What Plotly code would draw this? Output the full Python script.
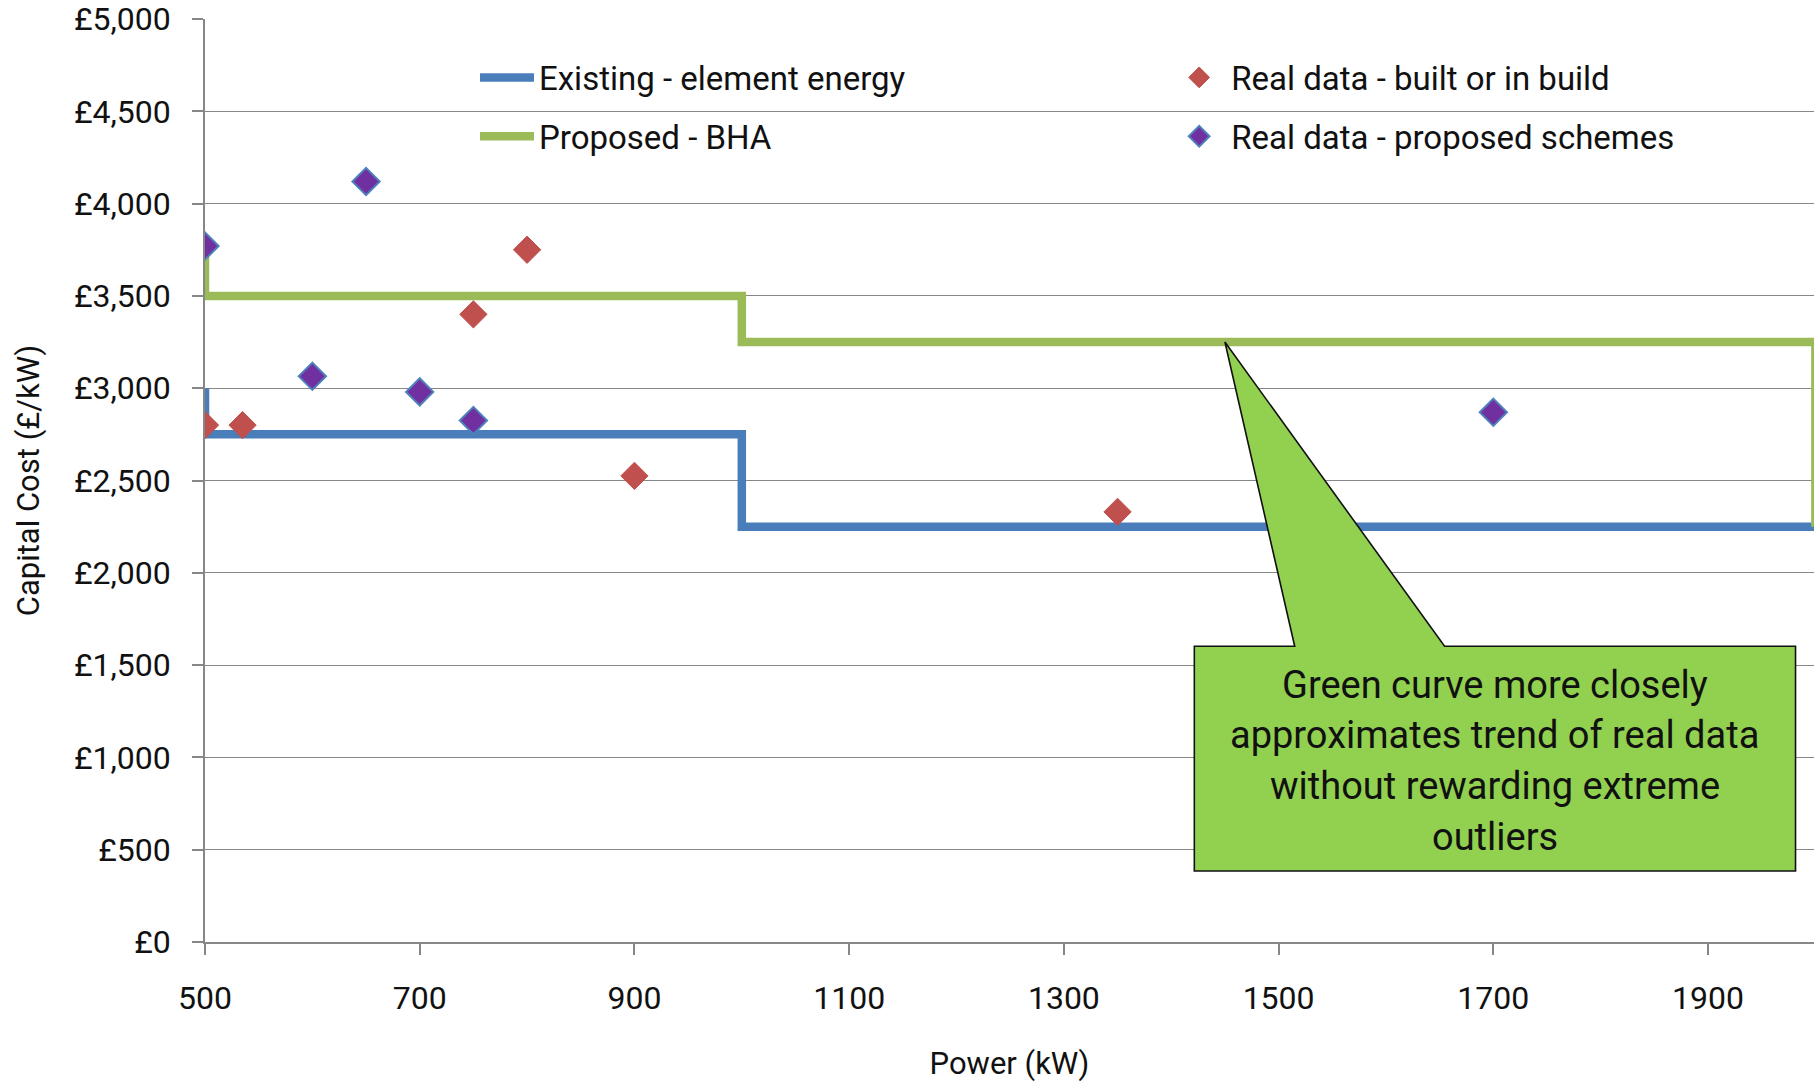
import plotly.graph_objects as go

# Cost curves (step functions) – capital cost per kW against installed power
existing_power = [500, 500, 1000, 1000, 2000]
existing_cost = [3000, 2750, 2750, 2250, 2250]

proposed_power = [500, 500, 1000, 1000, 2000, 2000]
proposed_cost = [3750, 3500, 3500, 3250, 3250, 2250]

# Real schemes
built_power = [500, 535, 750, 800, 900, 1350]
built_cost = [2800, 2800, 3400, 3750, 2525, 2330]

planned_power = [500, 600, 650, 700, 750, 1700]
planned_cost = [3770, 3065, 4120, 2980, 2825, 2870]

y_ticks = [0, 500, 1000, 1500, 2000, 2500, 3000, 3500, 4000, 4500, 5000]
y_tick_text = ["£0", "£500", "£1,000", "£1,500", "£2,000", "£2,500",
               "£3,000", "£3,500", "£4,000", "£4,500", "£5,000"]
x_ticks = [500, 700, 900, 1100, 1300, 1500, 1700, 1900]

note_lines = ["Green curve more closely",
              "approximates trend of real data",
              "without rewarding extreme",
              "outliers"]
note_line_y = [1394, 1119, 843, 567]

FONT = "Roboto, 'Noto Sans', sans-serif"
GRID = "#878787"
INK = "#111111"

fig = go.Figure()

fig.add_trace(go.Scatter(
    x=existing_power, y=existing_cost, mode="lines",
    name="Existing - element energy",
    line=dict(color="#4A7EBB", width=8.5),
    legend="legend", legendgroup="a",
))
fig.add_trace(go.Scatter(
    x=proposed_power, y=proposed_cost, mode="lines",
    name="Proposed - BHA",
    line=dict(color="#9BBB59", width=8.5),
    legend="legend", legendgroup="b",
))
fig.add_trace(go.Scatter(
    x=built_power, y=built_cost, mode="markers",
    name="Real data - built or in build",
    marker=dict(symbol="diamond", size=21, color="#C0504D",
                line=dict(color="#C0504D", width=1)),
    legend="legend2", legendgroup="c",
))
fig.add_trace(go.Scatter(
    x=planned_power, y=planned_cost, mode="markers",
    name="Real data - proposed schemes",
    marker=dict(symbol="diamond", size=21, color="#7030A0",
                line=dict(color="#4F81BD", width=2)),
    legend="legend2", legendgroup="d",
))

# Callout pointing at the proposed curve
box_l, box_r, box_t, box_b = 1421.5, 1981.5, 1602, 385
tip_x, tip_y = 1450, 3250
base_l, base_r = 1515, 1654.6
callout = (f"M {box_l},{box_t} L {base_l},{box_t} L {tip_x},{tip_y} "
           f"L {base_r},{box_t} L {box_r},{box_t} L {box_r},{box_b} "
           f"L {box_l},{box_b} Z")
fig.add_shape(type="path", path=callout, xref="x", yref="y",
              fillcolor="#92D050", line=dict(color=INK, width=1.6),
              layer="above")
for line_text, line_y in zip(note_lines, note_line_y):
    fig.add_annotation(x=(box_l + box_r) / 2, y=line_y, xref="x", yref="y",
                       text=line_text, showarrow=False, align="center",
                       font=dict(family=FONT, size=38, color=INK))

legend_common = dict(
    font=dict(family=FONT, size=33, color=INK),
    bgcolor="rgba(0,0,0,0)", orientation="v",
    tracegroupgap=13, itemwidth=54,
    xanchor="left", yanchor="top",
)

fig.update_layout(
    width=1814, height=1082,
    margin=dict(l=205, r=0, t=19, b=140),
    paper_bgcolor="white", plot_bgcolor="white",
    font=dict(family=FONT, size=32, color=INK),
    showlegend=True,
    legend=dict(x=0.1678, y=0.967, **legend_common),
    legend2=dict(x=0.598, y=0.967, **legend_common),
    xaxis=dict(
        range=[500, 1998.7], tickmode="array", tickvals=x_ticks,
        showgrid=False, zeroline=False,
        showline=True, linecolor=GRID, linewidth=1.6,
        ticks="outside", ticklen=11, tickwidth=1.6, tickcolor=GRID,
        tickfont=dict(family=FONT, size=32, color=INK),
        ticklabelstandoff=16,
        title=dict(text="Power (kW)", standoff=38,
                   font=dict(family=FONT, size=31, color=INK)),
    ),
    yaxis=dict(
        range=[0, 5000], tickmode="array", tickvals=y_ticks, ticktext=y_tick_text,
        showgrid=True, gridcolor=GRID, gridwidth=1.4, zeroline=False,
        showline=True, linecolor=GRID, linewidth=1.6,
        ticks="outside", ticklen=11, tickwidth=1.6, tickcolor=GRID,
        tickfont=dict(family=FONT, size=32, color=INK),
        ticklabelstandoff=15,
        title=dict(text="Capital Cost (£/kW)", standoff=25,
                   font=dict(family=FONT, size=31, color=INK)),
    ),
)

fig.write_html("out.html")
